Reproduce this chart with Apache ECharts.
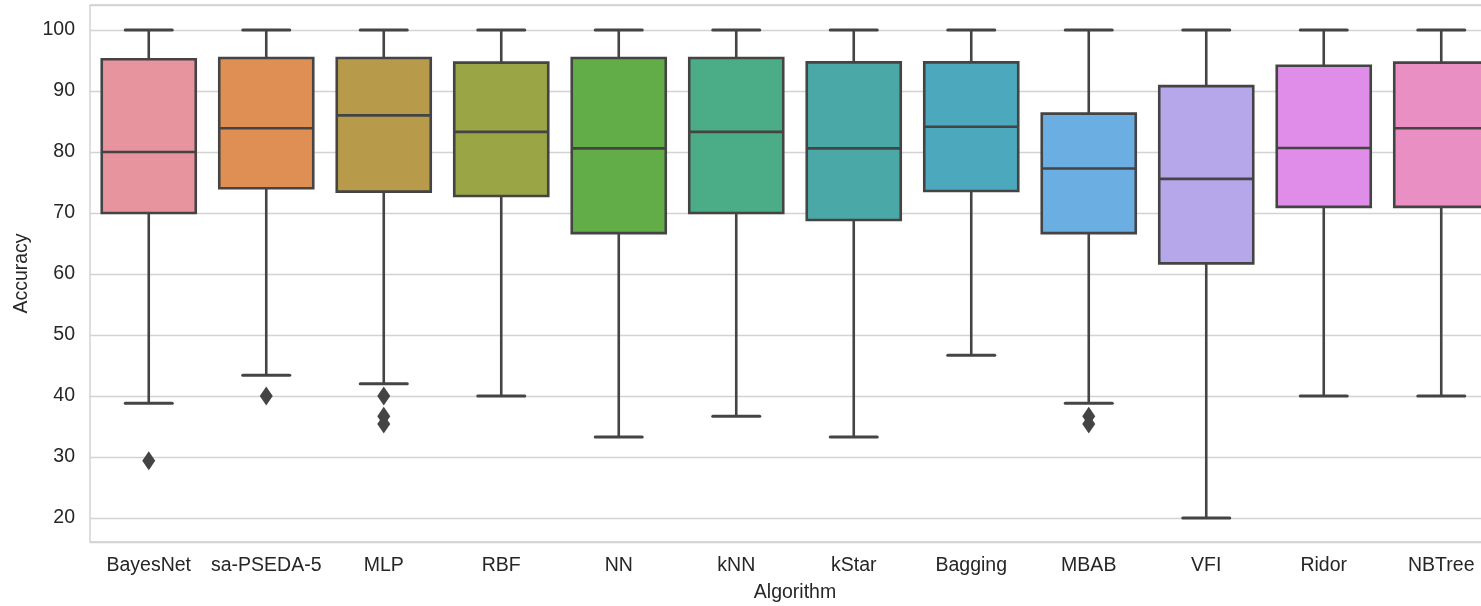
<!DOCTYPE html>
<html>
<head>
<meta charset="utf-8">
<script src="https://cdn.jsdelivr.net/npm/echarts@6/dist/echarts.min.js"></script>
<style>html,body{margin:0;padding:0;background:#fff}#c{width:1481px;height:606px}</style>
</head>
<body>
<div id="c"></div>
<script>
const categories = ['BayesNet','sa-PSEDA-5','MLP','RBF','NN','kNN','kStar','Bagging','MBAB','VFI','Ridor','NBTree'];
const whiskerLow  = [38.8, 43.4, 42.0, 40.0, 33.3, 36.7, 33.3, 46.7, 38.8, 20.0, 40.0, 40.0];
const q1          = [70.0, 74.05, 73.5, 72.8, 66.7, 70.0, 68.85, 73.6, 66.7, 61.75, 71.0, 71.0];
const median      = [80.0, 83.9, 86.0, 83.3, 80.6, 83.3, 80.6, 84.15, 77.3, 75.6, 80.65, 83.9];
const q3          = [95.2, 95.4, 95.4, 94.65, 95.4, 95.4, 94.7, 94.7, 86.3, 90.8, 94.15, 94.65];
const whiskerHigh = [100, 100, 100, 100, 100, 100, 100, 100, 100, 100, 100, 100];
const outlierCategory = ['BayesNet','sa-PSEDA-5','MLP','MLP','MLP','MBAB','MBAB'];
const outlierValue    = [29.4, 40.0, 40.0, 36.7, 35.4, 36.7, 35.4];
const colors = ['#e8949f','#e08f54','#b89b4a','#9aa546','#62ad48','#4aad88','#4aa9a6','#4ba8bd','#6aaee2','#b6a7eb','#df8de8','#e98fc4'];

const boxData = categories.map((c, i) => [i, whiskerLow[i], q1[i], median[i], q3[i], whiskerHigh[i]]);
const outData = outlierCategory.map((c, i) => [categories.indexOf(c), outlierValue[i]]);

const LINE = '#444444';
const FONT = 'Liberation Sans, Arial, sans-serif';

const chart = echarts.init(document.getElementById('c'), null, {renderer: 'canvas'});
chart.setOption({
  animation: false,
  backgroundColor: '#fff',
  grid: {left: 90, width: 1410, top: 5, bottom: 64, show: true, borderColor: '#cccccc', borderWidth: 1.3, containLabel: false, outerBoundsMode: 'none'},
  xAxis: {
    type: 'category', data: categories,
    name: 'Algorithm', nameLocation: 'middle', nameGap: 41,
    nameTextStyle: {fontFamily: FONT, fontSize: 19.5, color: '#262626'},
    axisLine: {show: false}, axisTick: {show: false},
    axisLabel: {fontFamily: FONT, fontSize: 19.5, color: '#262626', margin: 14, interval: 0},
    splitLine: {show: false}
  },
  yAxis: {
    type: 'value', min: 16.07, max: 104.1, splitNumber: 9,
    name: 'Accuracy', nameLocation: 'middle', nameGap: 56,
    nameTextStyle: {fontFamily: FONT, fontSize: 19.5, color: '#262626'},
    axisLine: {show: false}, axisTick: {show: false},
    axisLabel: {fontFamily: FONT, fontSize: 19.5, color: '#262626', margin: 15, showMinLabel: false, showMaxLabel: false},
    splitLine: {show: true, lineStyle: {color: '#d3d3d3', width: 1.3}}
  },
  series: [
    {
      type: 'custom',
      data: boxData,
      encode: {x: 0, y: [1, 2, 3, 4, 5]},
      z: 3,
      clip: false,
      renderItem: function (params, api) {
        const x = api.value(0);
        const pMin = api.coord([x, api.value(1)]);
        const pQ1 = api.coord([x, api.value(2)]);
        const pMed = api.coord([x, api.value(3)]);
        const pQ3 = api.coord([x, api.value(4)]);
        const pMax = api.coord([x, api.value(5)]);
        const band = api.size([1, 0])[0];
        const bw = band * 0.8;
        const cw = bw * 0.5;
        const cx = pMed[0];
        const st = {stroke: LINE, lineWidth: 2.6, lineCap: 'butt'};
        return {
          type: 'group',
          children: [
            {type: 'line', shape: {x1: cx, y1: pQ1[1], x2: cx, y2: pMin[1]}, style: st},
            {type: 'line', shape: {x1: cx, y1: pQ3[1], x2: cx, y2: pMax[1]}, style: st},
            {type: 'line', shape: {x1: cx - cw / 2, y1: pMin[1], x2: cx + cw / 2, y2: pMin[1]}, style: {stroke: LINE, lineWidth: 3, lineCap: 'round'}},
            {type: 'line', shape: {x1: cx - cw / 2, y1: pMax[1], x2: cx + cw / 2, y2: pMax[1]}, style: {stroke: LINE, lineWidth: 3, lineCap: 'round'}},
            {type: 'rect', shape: {x: cx - bw / 2, y: pQ3[1], width: bw, height: pQ1[1] - pQ3[1]}, style: {fill: colors[params.dataIndex], stroke: LINE, lineWidth: 2.6}},
            {type: 'line', shape: {x1: cx - bw / 2, y1: pMed[1], x2: cx + bw / 2, y2: pMed[1]}, style: st}
          ]
        };
      }
    },
    {
      type: 'scatter',
      data: outData,
      symbol: 'diamond',
      symbolSize: [13, 19],
      itemStyle: {color: LINE, opacity: 1},
      z: 4
    }
  ]
});
</script>
</body>
</html>
